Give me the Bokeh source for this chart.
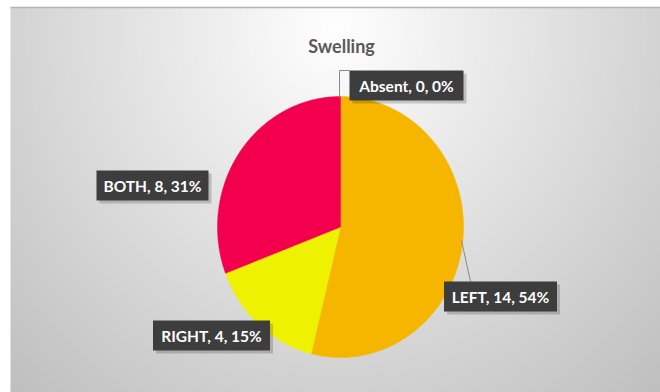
import numpy as np
from bokeh.plotting import figure
from bokeh.embed import file_html
from bokeh.resources import INLINE
from bokeh.core.properties import value

# ---- data ----
categories = ["Absent", "LEFT", "RIGHT", "BOTH"]
counts = [0, 14, 4, 8]
colors = ["#4472C4", "#F6B600", "#EEF100", "#F2004D"]
title_text = "Swelling"

# label box centers in screen pixels (layout)
label_pos = {"Absent": (406, 85), "LEFT": (500, 296), "RIGHT": (211, 335), "BOTH": (152, 185)}
label_w = {"Absent": 114, "LEFT": 113, "RIGHT": 117, "BOTH": 112}

W, H = 660, 392
def Y(py):
    return H - py

p = figure(width=W, height=H, x_range=(0, W), y_range=(0, H),
           output_backend="svg", toolbar_location=None, min_border=0)
p.axis.visible = False
p.grid.visible = False
p.outline_line_color = None
p.background_fill_color = "white"
p.border_fill_color = "white"

# radial gradient background
x0, x1, yt, yb = 10, 660, 7, 392
gw, gh = x1 - x0, yb - yt
xs = np.arange(gw) + x0
ys = np.arange(gh) + yt
XX, YY = np.meshgrid(xs, ys)
d = np.sqrt(((XX - 335) / 400.0) ** 2 + ((YY - 30) / 420.0) ** 2)
g = np.clip(255 - 54 * d, 185, 255).astype(np.uint32)
img = (255 << 24) | (g << 16) | (g << 8) | g
img = img[::-1].copy()  # bottom row first
p.image_rgba(image=[img.view(np.uint32)], x=x0, y=Y(yb), dw=gw, dh=gh)
p.line([x0, x1], [Y(yt), Y(yt)], line_color="#b4b4b4", line_width=1.5)

# pie (ellipse in screen space)
cx, cy, rx, ry = 340, Y(226.5), 123, 130.5
total = float(sum(counts))
cum = 0.0
for cat, c, col in zip(categories, counts, colors):
    if c <= 0:
        continue
    a0 = np.pi / 2 - 2 * np.pi * cum / total
    a1 = np.pi / 2 - 2 * np.pi * (cum + c) / total
    ang = np.linspace(a0, a1, 120)
    px = np.concatenate([[cx], cx + rx * np.cos(ang)])
    py = np.concatenate([[cy], cy + ry * np.sin(ang)])
    p.patch(px, py, fill_color=col, line_color=col, line_width=0.5)
    cum += c

# leader lines
p.line([349, 339, 339], [Y(70), Y(70), Y(97)], line_color="#8a8a8a", line_width=1)
p.line([461, 470], [Y(240), Y(281)], line_color="#8a8a8a", line_width=1)

# title
p.text([341], [Y(45)], text=[title_text], text_align="center", text_baseline="middle",
       text_font=value("Lato"), text_font_style="bold", text_font_size="18px",
       text_color="#595959")

# data labels
for cat, c in zip(categories, counts):
    pct = int(round(100 * c / total))
    lx, ly = label_pos[cat]
    w = label_w[cat]
    p.rect([lx + 3], [Y(ly) - 3], width=w, height=30, fill_color="black",
           fill_alpha=0.18, line_color=None)
    p.rect([lx], [Y(ly)], width=w, height=30, fill_color="#3d3d3d", line_color=None)
    p.text([lx], [Y(ly)], text=[f"{cat}, {c}, {pct}%"], text_align="center",
           text_baseline="middle", text_font=value("Lato"), text_font_style="bold",
           text_font_size="15.5px", text_color="white")

open("out.html", "w").write(file_html(p, INLINE))
